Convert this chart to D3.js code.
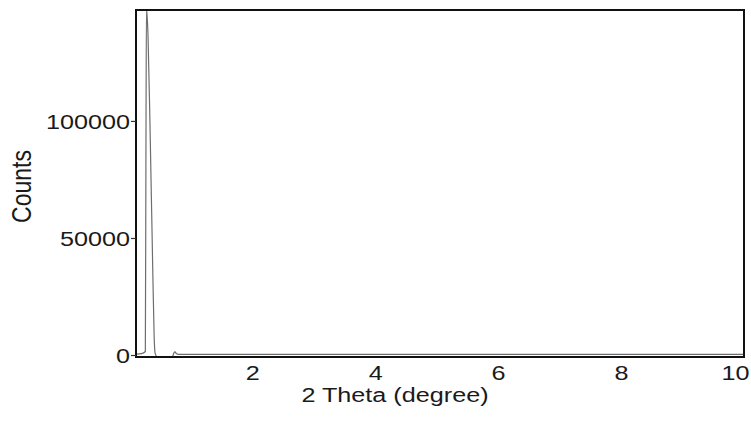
<!DOCTYPE html>
<html>
<head>
<meta charset="utf-8">
<script src="https://cdn.jsdelivr.net/npm/d3@7"></script>
<style>
  html, body { margin: 0; padding: 0; background: #fff; }
  svg { display: block; }
  text { font-family: "Liberation Sans", Arial, sans-serif; fill: #1a1a1a; }
</style>
</head>
<body>
<svg id="chart" width="751" height="422"></svg>
<script>
// 2 Theta (degree) values
const twoTheta = [0.12, 0.20, 0.262, 0.272, 0.28, 0.29, 0.305, 0.34, 0.38, 0.405, 0.42, 0.46, 0.55, 0.65, 0.70, 0.725, 0.745, 0.77, 0.80, 1.0, 2.0, 3.0, 4.0, 5.0, 6.0, 7.0, 8.0, 9.0, 10.0];
// Counts
const counts = [400, 600, 1500, 90000, 148000, 145000, 137000, 95000, 40000, 8000, 800, -900, -900, -900, -850, 800, 1300, 500, 300, 300, 300, 300, 300, 300, 300, 300, 300, 300, 300];
const yTicks = [0, 50000, 100000];
const xTicks = [2, 4, 6, 8, 10];
const xTitle = "2 Theta (degree)";
const yTitle = "Counts";

const svg = d3.select("#chart");
const L = 136, R = 744, T = 10, B = 357;
const SX = 1.2; // horizontal stretch of the reference text

const x = d3.scaleLinear().domain([0.11, 10]).range([L, R]);
const y = d3.scaleLinear().domain([-850, 147400]).range([B, T]);

svg.append("clipPath").attr("id", "clip")
  .append("rect").attr("x", L).attr("y", T).attr("width", R - L).attr("height", B - T);

const data = twoTheta.map((d, i) => [d, counts[i]]);
const line = d3.line().x(d => x(d[0])).y(d => y(d[1])).curve(d3.curveMonotoneX);

svg.append("path")
  .datum(data)
  .attr("clip-path", "url(#clip)")
  .attr("fill", "none")
  .attr("stroke", "#6e6e6e")
  .attr("stroke-width", 1.2)
  .attr("d", line);

// frame
svg.append("rect")
  .attr("x", L).attr("y", T).attr("width", R - L).attr("height", B - T)
  .attr("fill", "none").attr("stroke", "#111").attr("stroke-width", 2);

// y axis ticks
const yAxis = d3.axisLeft(y).tickValues(yTicks).tickSize(5).tickPadding(0).tickFormat(d3.format("d"));
const gy = svg.append("g").attr("transform", `translate(${L},0)`).call(yAxis);
gy.select(".domain").remove();
gy.selectAll(".tick line").attr("stroke", "#333").attr("stroke-width", 1.2);
gy.selectAll(".tick text")
  .attr("x", null).attr("dy", null)
  .attr("font-size", 21)
  .attr("text-anchor", "end")
  .attr("dominant-baseline", "central")
  .attr("transform", `translate(-6,0) scale(${SX},1)`)
  .style("font-family", "Liberation Sans, Arial, sans-serif")
  .style("fill", "#1a1a1a");

// x axis labels (no tick marks)
const xAxis = d3.axisBottom(x).tickValues(xTicks).tickSize(0).tickPadding(0).tickFormat(d3.format("d"));
const gx = svg.append("g").attr("transform", `translate(0,${B})`).call(xAxis);
gx.select(".domain").remove();
gx.selectAll(".tick text")
  .attr("y", null).attr("dy", null)
  .attr("font-size", 21)
  .attr("text-anchor", d => d === 10 ? "end" : "middle")
  .attr("transform", d => d === 10 ? `translate(5,23) scale(${SX},1)` : `translate(0,23) scale(${SX},1)`)
  .style("font-family", "Liberation Sans, Arial, sans-serif")
  .style("fill", "#1a1a1a");

// axis titles
svg.append("text")
  .attr("transform", `translate(${(L + R) / 2 - 45},${B + 30}) scale(${SX},1)`)
  .attr("text-anchor", "middle")
  .attr("dominant-baseline", "hanging")
  .attr("font-size", 21)
  .text(xTitle);

svg.append("text")
  .attr("transform", `translate(31,${(T + B) / 2 + 3}) rotate(-90) scale(1,${SX})`)
  .attr("text-anchor", "middle")
  .attr("font-size", 23)
  .text(yTitle);
</script>
</body>
</html>
